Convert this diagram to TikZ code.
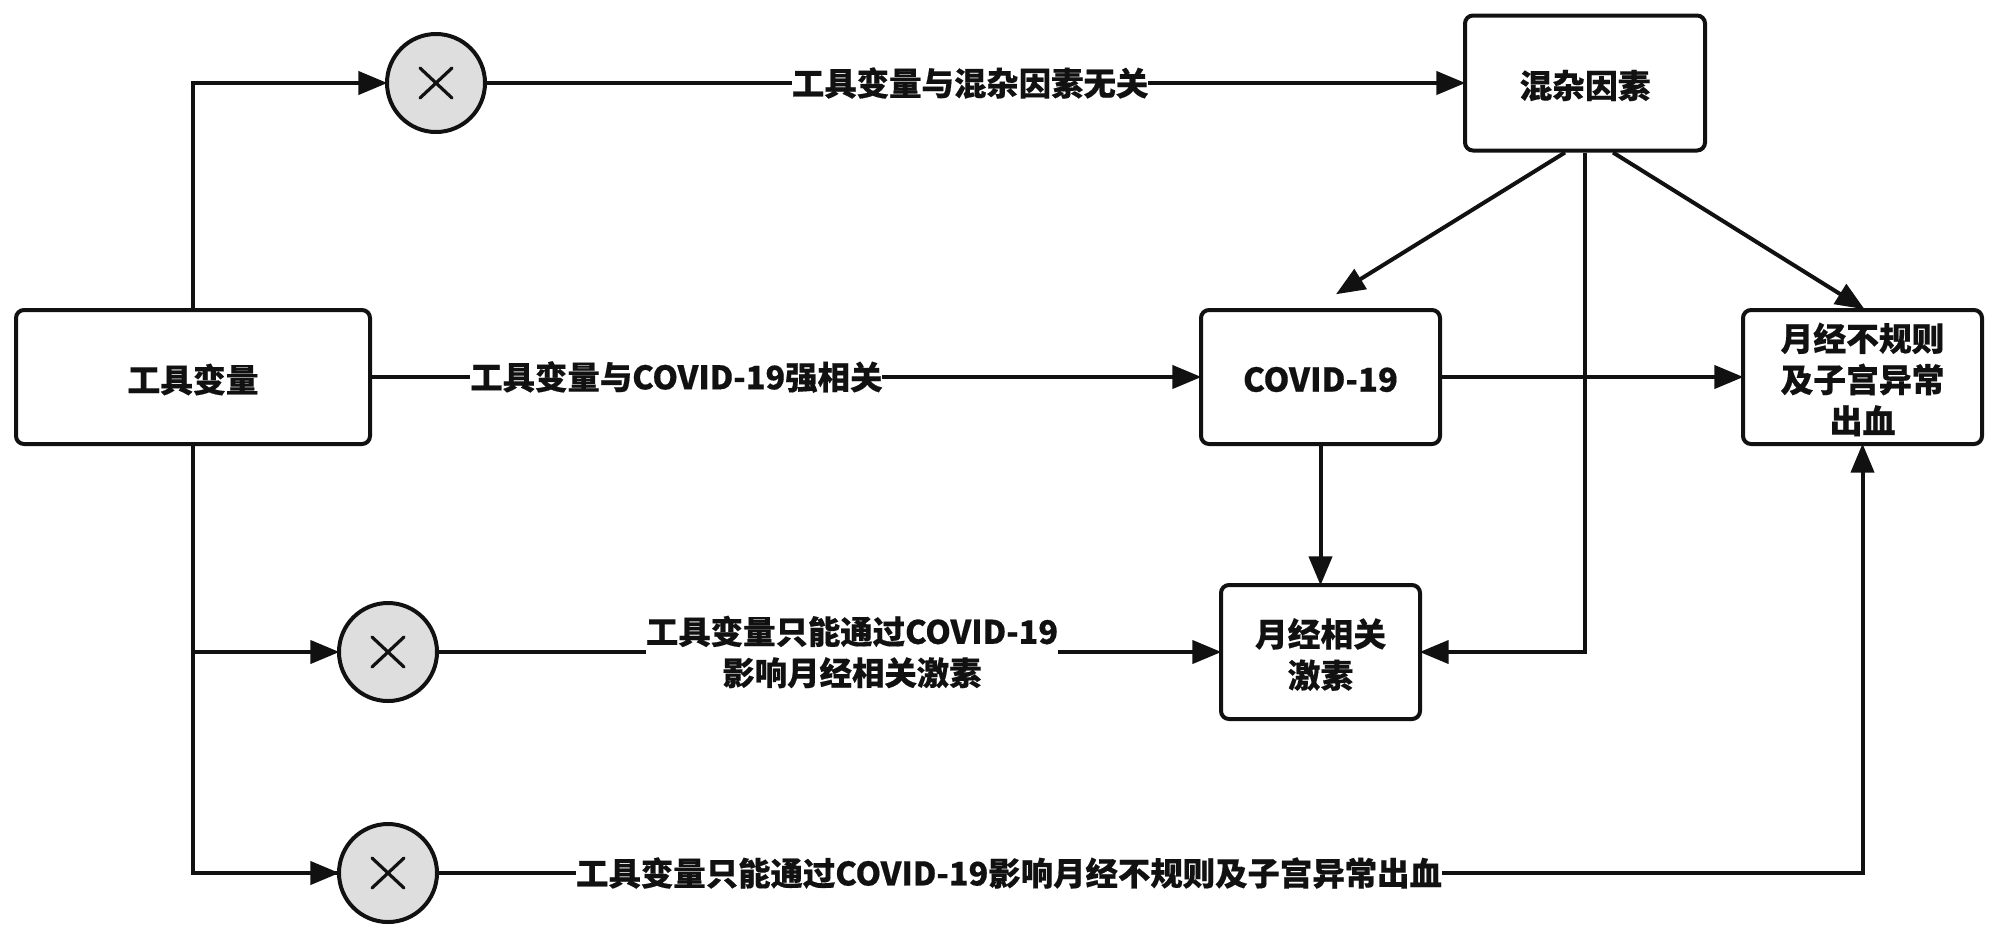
\documentclass[tikz,border=0pt]{standalone}
\usepackage{fontspec}
\setmainfont{Noto Sans CJK SC}[BoldFeatures={FakeBold=0.4}]
\usetikzlibrary{arrows.meta,calc}
\definecolor{ink}{HTML}{111111}
\definecolor{xfill}{HTML}{DEDEDE}
\tikzset{
  x=0.5pt,y=-0.5pt,
  boxnode/.style={draw=ink,line width=2pt,rounded corners=4pt,fill=white,inner sep=0pt,align=center,text=ink},
  boxtext/.style={font=\fontsize{16.4}{20.6}\selectfont\bfseries,text=ink,align=center,inner sep=0pt},
  xnode/.style={draw=ink,line width=2pt,circle,fill=xfill,minimum size=49pt,inner sep=0pt},
  lab/.style={fill=white,inner sep=0pt,align=center,font=\fontsize{16.2}{20.6}\selectfont\bfseries,text=ink},
  link/.style={draw=ink,line width=2pt},
  arrow/.style={link,-{Triangle[length=14.5pt,width=11.5pt]},shorten >=-1.2pt},
  crossmark/.style={draw=ink,line width=1.6pt,line cap=round},
}
\newcommand{\boxat}[6]{\node[boxnode,minimum width=#4*0.5pt,minimum height=#5*0.5pt] (#1) at (#2,#3) {};\node[boxtext] (#1t) at (#2,#3+2.5) {#6};}
\newcommand{\xat}[3]{\node[xnode] (#1) at (#2,#3) {};\draw[crossmark] (#2-16,#3-15)--(#2+16,#3+15) (#2-16,#3+15)--(#2+16,#3-15);}
\begin{document}
\begin{tikzpicture}
\useasboundingbox (0,0) rectangle (2000,938);
\boxat{tool}{193}{377}{354}{134}{工具变量}
\boxat{mix}{1585}{83}{240}{135}{混杂因素}
\boxat{cov}{1320.5}{377}{239}{134}{COVID-19}
\boxat{irr}{1862.5}{377}{239}{134}{月经不规则\\及子宫异常\\出血}
\boxat{hor}{1320.5}{652}{199}{134}{月经相关\\激素}
\xat{xa}{436}{83}
\xat{xb}{388}{652}
\xat{xc}{388}{873}
\coordinate (mixl) at ($(mix.south)+(-20,0)$);
\coordinate (mixr) at ($(mix.south)+(28,0)$);
\coordinate (covend) at (1338,293);
\coordinate (branch) at (tool.south |- xb);
\draw[arrow] (tool.north) |- (xa.west);
\draw[link] (tool.south) |- (xc.west);
\draw[arrow] (tool.south |- xc) -- (xc.west);
\draw[arrow] (branch) -- (xb.west);
\draw[arrow] (xa.east) -- node[lab,pos=0.495] (la) {工具变量与混杂因素无关} (mix.west |- xa);
\draw[arrow] (tool.east |- cov) -- node[lab,pos=0.368] (lb) {工具变量与COVID-19强相关} (cov.west);
\draw[arrow] (cov.east) -- (irr.west);
\draw[arrow] (cov.south) -- (hor.north);
\draw[arrow] (xb.east) -- (hor.west);
\node[lab] (lc) at (852,652) {工具变量只能通过COVID-19\\影响月经相关激素};
\draw[arrow] (xc.east) -| (irr.south);
\node[lab] (ld) at (1009,873) {工具变量只能通过COVID-19影响月经不规则及子宫异常出血};
\draw[arrow] (mixl) -- (covend);
\draw[arrow] (mixr) -- (irr.north);
\draw[arrow] (mix.south) |- (hor.east);
\end{tikzpicture}
\end{document}
